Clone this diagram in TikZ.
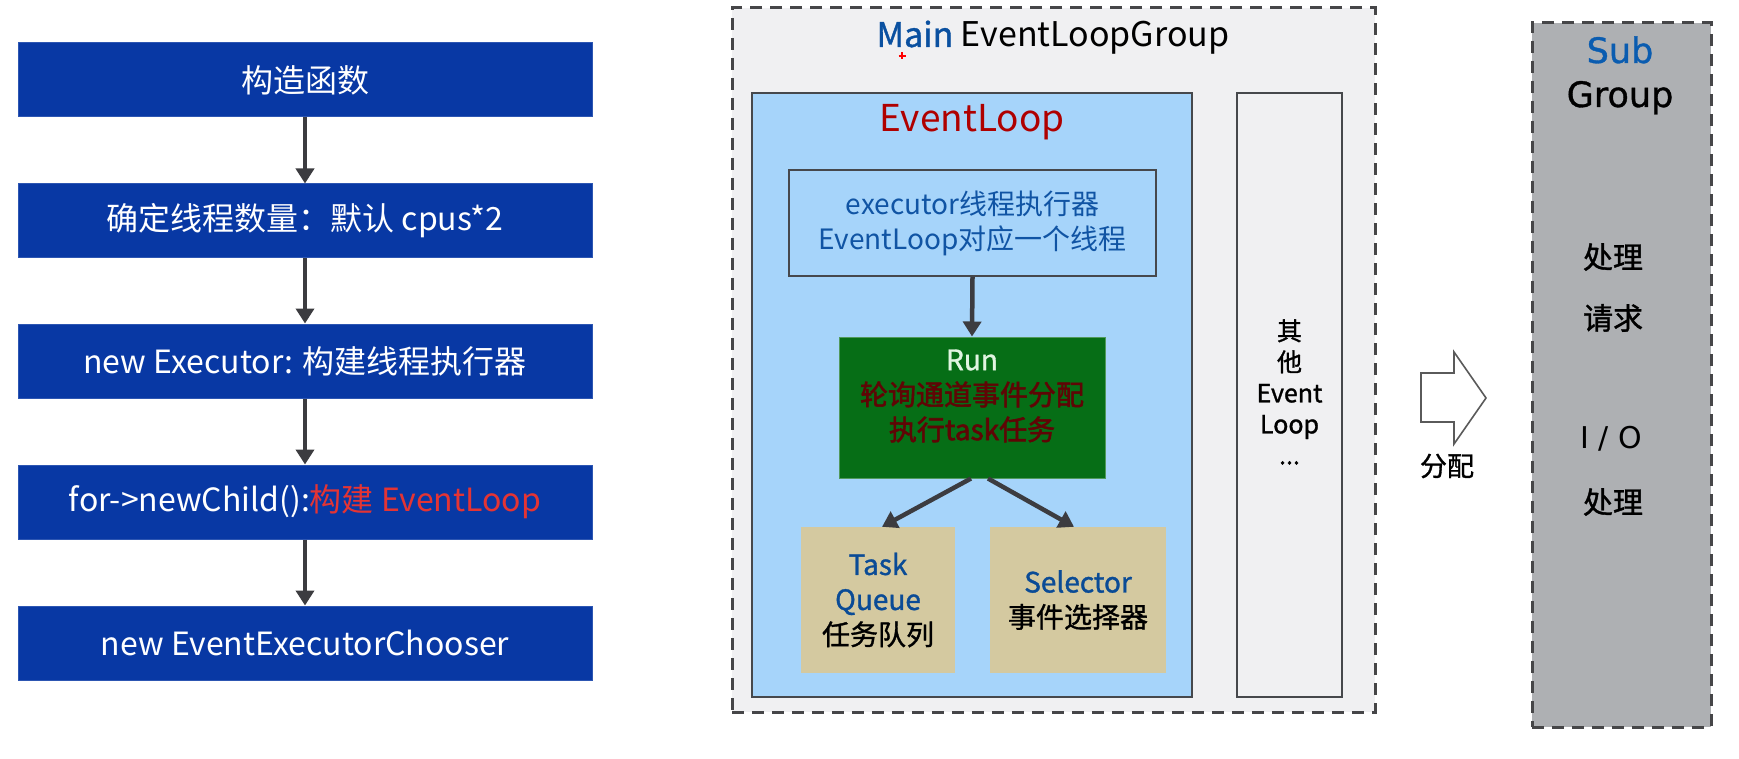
\documentclass[tikz,border=0pt]{standalone}
\usepackage{fontspec}
\setmainfont{Noto Sans CJK SC}
\newfontfamily\cjkmed[FakeBold=1.2]{Noto Sans CJK SC}
\newfontfamily\cjkstrong[FakeBold=2]{Noto Sans CJK SC}
\newfontfamily\dejavu{DejaVu Sans}
\newfontfamily\dejavumed[FakeBold=1]{DejaVu Sans}
\usetikzlibrary{arrows.meta,calc}
\newcommand\fsz[2]{\fontsize{#1pt}{#2pt}\selectfont}
\definecolor{flowblue}{RGB}{8,56,164}
\definecolor{flowred}{RGB}{228,52,52}
\definecolor{arrowgray}{RGB}{60,60,64}
\definecolor{groupbg}{RGB}{240,240,242}
\definecolor{dashgray}{RGB}{70,70,72}
\definecolor{lightblue}{RGB}{166,212,250}
\definecolor{boxline}{RGB}{70,72,76}
\definecolor{mainblue}{RGB}{10,80,160}
\definecolor{elred}{RGB}{175,0,0}
\definecolor{execblue}{RGB}{16,84,164}
\definecolor{rungreen}{RGB}{6,110,22}
\definecolor{runwhite}{RGB}{225,245,225}
\definecolor{runred}{RGB}{95,5,5}
\definecolor{tan}{RGB}{212,201,160}
\definecolor{taskblue}{RGB}{10,75,150}
\definecolor{subgray}{RGB}{174,176,179}
\definecolor{subblue}{RGB}{10,92,176}
\definecolor{hollowline}{RGB}{90,90,90}
\begin{document}
\begin{tikzpicture}[x=1pt,y=-1pt,
  flowbox/.style={fill=flowblue, draw=flowblue!85!white, line width=1pt,
    minimum width=574pt, minimum height=74pt, inner sep=0pt,
    text=white, font=\fsz{32}{38}},
  conn/.style={draw=arrowgray, line width=4.5pt, -{Triangle[width=18pt,length=15pt]}},
  dashbox/.style={draw=dashgray, line width=3pt, dash pattern=on 12pt off 8pt, inner sep=0pt},
  linebox/.style={draw=boxline, line width=2pt, inner sep=0pt},
  tanbox/.style={fill=tan, inner sep=0pt, align=center, font=\cjkmed\fsz{28}{35}},
  hollow/.style={draw=hollowline, line width=1.6pt, fill=white, line join=miter}
]
\useasboundingbox (0,0) rectangle (1739,759);
\fill[white] (0,0) rectangle (1739,759);

% ---- left flow ----
\node[flowbox] (b1) at (305,80) {构造函数};
\node[flowbox] (b2) at (305,221) {确定线程数量：默认 cpus*2};
\node[flowbox] (b3) at (305,361) {new Executor: 构建线程执行器};
\node[flowbox] (b4) at (305,502) {for->newChild():\textcolor{flowred}{构建 EventLoop}};
\node[flowbox] (b5) at (305,643) {new EventExecutorChooser};
\draw[conn] (b1.south) -- (b2.north);
\draw[conn] (b2.south) -- (b3.north);
\draw[conn] (b3.south) -- (b4.north);
\draw[conn] (b4.south) -- (b5.north);

% ---- main group ----
\node[dashbox, fill=groupbg, minimum width=643pt, minimum height=704pt] (grp) at (1053.5,360) {};
\node[anchor=base, font=\fsz{34}{40}] (title) at (1053,47) {\textcolor{mainblue}{\cjkmed Main} EventLoopGroup};
\draw[red, line width=1.3pt] (898.5,56) -- (905.5,56) (902,52.5) -- (902,59.5);

\node[linebox, fill=lightblue, minimum width=440pt, minimum height=604pt] (el) at (972,395) {};
\node[anchor=base, text=elred, font=\fsz{37}{44}] (eltitle) at (972,132) {EventLoop};

\node[linebox, fill=lightblue, minimum width=367pt, minimum height=106pt,
  text=execblue, font=\fsz{28}{35}, align=center] (exec) at (972.5,223)
  {executor线程执行器\\EventLoop对应一个线程};

\node[fill=rungreen, draw=rungreen!70!white, line width=1pt, inner sep=0pt,
  minimum width=266pt, minimum height=141pt] (run) at (972,407.5) {};
\node[align=center, font=\cjkstrong\fsz{28}{35}] (runtxt) at (972,396)
  {\textcolor{runwhite}{\cjkmed Run}\\\textcolor{runred}{轮询通道事件分配}\\\textcolor{runred}{执行task任务}};

\node[tanbox, minimum width=154pt, minimum height=146pt] (task) at (878,600)
  {\textcolor{taskblue}{Task}\\\textcolor{taskblue}{Queue}\\任务队列};
\node[tanbox, minimum width=176pt, minimum height=146pt] (sel) at (1078,600)
  {\textcolor{taskblue}{Selector}\\事件选择器};

\draw[conn] (exec.south) -- (run.north);
\draw[conn] ([xshift=-1pt]run.south) -- ([xshift=4pt]task.north);
\draw[conn] ([xshift=16pt]run.south) -- ([xshift=-4pt]sel.north);

\node[linebox, fill=groupbg, minimum width=105pt, minimum height=604pt] (other) at (1289.5,395) {};
\node[align=center, font=\cjkmed\fsz{25}{31}] (othertxt) at (1289.5,392) {其\\他\\Event\\Loop\\...};

% ---- hollow arrow ----
\draw[hollow] (1421,373) -- (1454,373) -- (1454,352) -- (1486,398) -- (1454,444) -- (1454,422) -- (1421,422) -- cycle;
\node[font=\cjkmed\fsz{27}{32}] (fenpei) at (1447,466) {分配};

% ---- sub group ----
\node[dashbox, fill=subgray, minimum width=179pt, minimum height=704pt] (sub) at (1621.5,375) {};
\node[anchor=base, text=subblue, font=\dejavumed\fsz{35}{40}] (subt) at (1620,63) {Sub};
\node[anchor=base, font=\dejavumed\fsz{35}{40}] (groupt) at (1620,107) {Group};
\node[font=\cjkmed\fsz{30}{36}] (s1) at (1613,257) {处理};
\node[font=\cjkmed\fsz{30}{36}] (s2) at (1613,318) {请求};
\node[font=\dejavu\fsz{30}{36}] (s3) at (1611,439) {I / O};
\node[font=\cjkmed\fsz{30}{36}] (s4) at (1613,502) {处理};
\end{tikzpicture}
\end{document}
